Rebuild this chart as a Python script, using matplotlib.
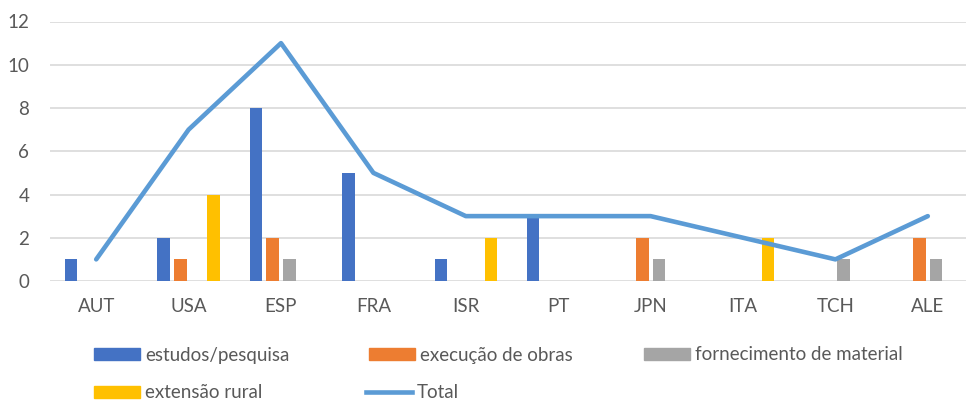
import matplotlib
matplotlib.use("Agg")
import matplotlib.pyplot as plt
import numpy as np
from matplotlib.lines import Line2D
from matplotlib.patches import Patch

# dados
paises = ['AUT', 'USA', 'ESP', 'FRA', 'ISR', 'PT', 'JPN', 'ITA', 'TCH', 'ALE']
estudos = [1, 2, 8, 5, 1, 3, 0, 0, 0, 0]
execucao = [0, 1, 2, 0, 0, 0, 2, 0, 0, 2]
fornecimento = [0, 0, 1, 0, 0, 0, 1, 0, 1, 1]
extensao = [0, 4, 0, 0, 2, 0, 0, 2, 0, 0]
total = [1, 7, 11, 5, 3, 3, 3, 2, 1, 3]

series = [
    ('estudos/pesquisa', estudos, '#4472C4'),
    ('execução de obras', execucao, '#ED7D31'),
    ('fornecimento de material', fornecimento, '#A5A5A5'),
    ('extensão rural', extensao, '#FFC000'),
]

plt.rcParams['font.family'] = ['Lato', 'DejaVu Sans']
texto = '#595959'
azul_linha = '#5B9BD5'

fig = plt.figure(figsize=(9.66, 4.0), dpi=100)
ax = fig.add_axes([50 / 966, 1 - 281 / 400, 924 / 966, 259.5 / 400])

x = np.arange(len(paises))
largura = 0.135
passo = 0.18
for i, (nome, valores, cor) in enumerate(series):
    ax.bar(x + (i - 1.5) * passo, valores, width=largura, color=cor, zorder=2)

ax.plot(x, total, color=azul_linha, linewidth=3.3, solid_capstyle='round', zorder=3)

ax.set_xlim(-0.5, len(paises) - 0.5)
ax.set_ylim(0, 12)
ax.set_yticks(range(0, 13, 2))
ax.set_xticks(x)
ax.set_xticklabels(paises)
ax.grid(axis='y', color='#D9D9D9', linewidth=1.2, zorder=0)
for lado in ['top', 'right', 'left', 'bottom']:
    ax.spines[lado].set_visible(False)
ax.tick_params(axis='both', length=0, labelcolor=texto, labelsize=13.5)
ax.tick_params(axis='y', pad=15)
ax.tick_params(axis='x', pad=12)

# legenda: cada item posicionado como no Excel (2 linhas)
h = {nome: Patch(color=cor) for nome, _, cor in series}
h['Total'] = Line2D([], [], color=azul_linha, linewidth=3.3)
itens = [
    ('estudos/pesquisa', 94, 355),
    ('execução de obras', 369, 355),
    ('fornecimento de material', 644, 355),
    ('extensão rural', 94, 393),
    ('Total', 366, 393),
]
for nome, px, py in itens:
    leg = fig.legend([h[nome]], [nome], loc='center left',
                     bbox_to_anchor=(px / 966, 1 - py / 400), frameon=False,
                     fontsize=13.5, labelcolor=texto, handlelength=2.45,
                     handleheight=0.6, handletextpad=0.28, borderpad=0,
                     borderaxespad=0)

fig.savefig('out.png', dpi=100)
